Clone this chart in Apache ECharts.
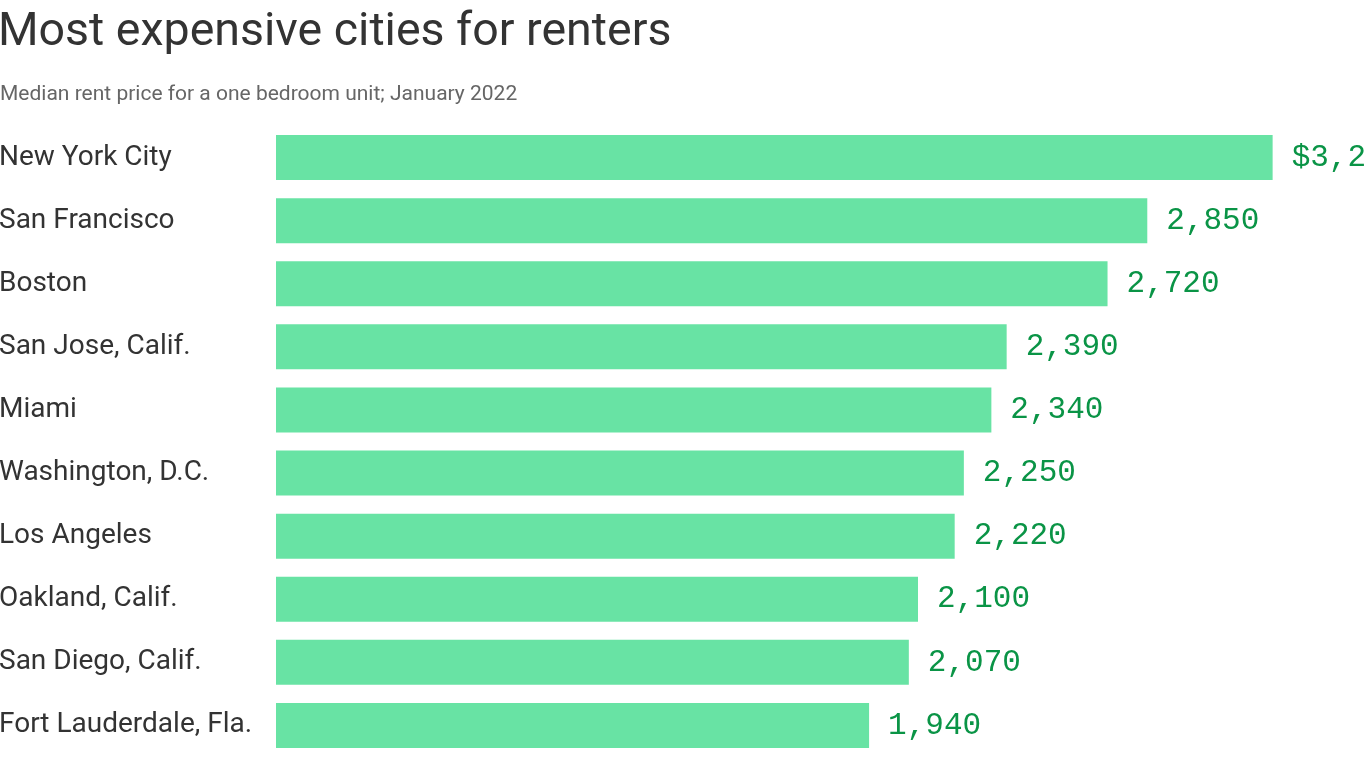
<!DOCTYPE html>
<html>
<head>
<meta charset="utf-8">
<script src="https://cdn.jsdelivr.net/npm/echarts@6/dist/echarts.min.js"></script>
<style>html,body{margin:0;padding:0;background:#fff;}#c{width:1366px;height:768px;}</style>
</head>
<body>
<div id="c"></div>
<script>
const cities = ["New York City","San Francisco","Boston","San Jose, Calif.","Miami","Washington, D.C.","Los Angeles","Oakland, Calif.","San Diego, Calif.","Fort Lauderdale, Fla."];
const rents = [3260,2850,2720,2390,2340,2250,2220,2100,2070,1940];

const chart = echarts.init(document.getElementById('c'));
chart.setOption({
  animation: false,
  backgroundColor: '#fff',
  title: [{
    text: 'Most expensive cities for renters',
    left: -2, top: 10, padding: 0,
    textStyle: {fontFamily: 'Roboto', fontSize: 46.5, fontWeight: 'normal', color: '#333'}
  },{
    text: 'Median rent price for a one bedroom unit; January 2022',
    left: 0, top: 84, padding: 0,
    textStyle: {fontFamily: 'Roboto', fontSize: 21, fontWeight: 'normal', color: '#666'}
  }],
  grid: {left: 276, top: 126, height: 631, right: 20, containLabel: false, outerBoundsMode: 'none'},
  xAxis: {type: 'value', min: 0, max: 3500, show: false},
  yAxis: {
    type: 'category', data: cities, inverse: true,
    axisLine: {show: false}, axisTick: {show: false},
    axisLabel: {align: 'left', margin: 277, padding: [4, 0, 0, 0], fontFamily: 'Roboto', fontSize: 28, color: '#333'}
  },
  series: [{
    type: 'bar', data: rents, barWidth: 45,
    itemStyle: {color: '#68e3a4'},
    label: {
      show: true, position: 'right', distance: 19,
      fontFamily: 'Liberation Mono', fontSize: 31, color: '#0a9446',
      formatter: p => (p.dataIndex === 0 ? '$' : '') + p.value.toLocaleString('en-US')
    }
  }]
});
</script>
</body>
</html>
